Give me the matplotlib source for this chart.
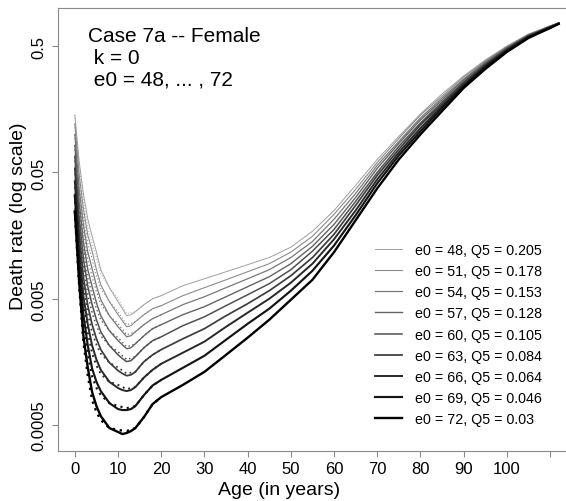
import matplotlib
matplotlib.use("Agg")
import matplotlib.pyplot as plt

plt.rcParams['font.family'] = ['Liberation Sans', 'DejaVu Sans']

# ages for the solid curves
ages = [0, 1, 2, 3, 4, 5, 6, 8, 10, 11, 12, 13, 14, 16, 18, 20, 25, 30, 35, 40, 45, 50,
        55, 60, 65, 70, 75, 80, 85, 90, 95, 100, 105, 110, 112]

e0_values = [48, 51, 54, 57, 60, 63, 66, 69, 72]
q5_values = ["0.205", "0.178", "0.153", "0.128", "0.105", "0.084", "0.064", "0.046", "0.03"]

# death rates, one list per e0
m_e48 = [0.142, 0.0611, 0.0335, 0.0213, 0.0156, 0.0117, 0.00849, 0.00612, 0.00474, 0.00417, 0.00367, 0.00374,
         0.00395, 0.00449, 0.00500, 0.00529, 0.00634, 0.00720, 0.00818, 0.00930, 0.0106, 0.0128,
         0.0171, 0.0250, 0.0395, 0.0634, 0.0964, 0.145, 0.209, 0.290, 0.388, 0.500, 0.623, 0.720, 0.761]
m_e51 = [0.121, 0.0482, 0.0255, 0.0159, 0.0119, 0.00849, 0.00646, 0.00474, 0.00374, 0.00335, 0.00300, 0.00306,
         0.00329, 0.00374, 0.00417, 0.00441, 0.00529, 0.00612, 0.00707, 0.00818, 0.00947, 0.0117,
         0.0156, 0.0233, 0.0367, 0.0600, 0.0930, 0.142, 0.201, 0.284, 0.381, 0.491, 0.612, 0.720, 0.761]
m_e54 = [0.100, 0.0374, 0.0191, 0.0117, 0.00864, 0.00634, 0.00491, 0.00367, 0.00300, 0.00274, 0.00250, 0.00255,
         0.00274, 0.00312, 0.00348, 0.00374, 0.00449, 0.00519, 0.00612, 0.00720, 0.00849, 0.0106,
         0.0142, 0.0213, 0.0341, 0.0569, 0.0880, 0.135, 0.194, 0.274, 0.374, 0.491, 0.612, 0.720, 0.761]
m_e57 = [0.0818, 0.0290, 0.0140, 0.00849, 0.00623, 0.00465, 0.00367, 0.00279, 0.00233, 0.00216, 0.00201, 0.00205,
         0.00220, 0.00255, 0.00290, 0.00312, 0.00374, 0.00433, 0.00519, 0.00623, 0.00747, 0.00947,
         0.0130, 0.0194, 0.0317, 0.0538, 0.0849, 0.130, 0.187, 0.269, 0.367, 0.482, 0.612, 0.707, 0.761]
m_e60 = [0.0670, 0.0220, 0.0103, 0.00623, 0.00449, 0.00341, 0.00274, 0.00213, 0.00180, 0.00168, 0.00159, 0.00162,
         0.00174, 0.00205, 0.00233, 0.00250, 0.00306, 0.00360, 0.00441, 0.00538, 0.00658, 0.00849,
         0.0119, 0.0177, 0.0295, 0.0500, 0.0804, 0.123, 0.180, 0.260, 0.360, 0.474, 0.600, 0.707, 0.761]
m_e63 = [0.0538, 0.0168, 0.00734, 0.00441, 0.00312, 0.00241, 0.00198, 0.00156, 0.00135, 0.00128, 0.00123, 0.00125,
         0.00132, 0.00159, 0.00180, 0.00198, 0.00241, 0.00290, 0.00367, 0.00457, 0.00579, 0.00761,
         0.0106, 0.0162, 0.0274, 0.0474, 0.0761, 0.119, 0.174, 0.255, 0.354, 0.474, 0.600, 0.707, 0.750]
m_e66 = [0.0425, 0.0125, 0.00519, 0.00312, 0.00213, 0.00165, 0.00137, 0.00110, 0.000982, 0.000947, 0.000930, 0.000947,
         0.00100, 0.00119, 0.00137, 0.00153, 0.00187, 0.00229, 0.00300, 0.00388, 0.00500, 0.00670,
         0.00947, 0.0148, 0.0250, 0.0441, 0.0720, 0.112, 0.168, 0.246, 0.348, 0.465, 0.590, 0.707, 0.750]
m_e69 = [0.0329, 0.00913, 0.00367, 0.00213, 0.00140, 0.00110, 0.000930, 0.000747, 0.000670, 0.000658, 0.000658, 0.000670,
         0.000707, 0.000864, 0.00103, 0.00114, 0.00142, 0.00177, 0.00237, 0.00317, 0.00417, 0.00579,
         0.00833, 0.0132, 0.0229, 0.0410, 0.0682, 0.106, 0.162, 0.241, 0.341, 0.457, 0.590, 0.695, 0.750]
m_e72 = [0.0246, 0.00670, 0.00250, 0.00142, 0.000913, 0.000707, 0.000590, 0.000474, 0.000441, 0.000425, 0.000433, 0.000449,
         0.000474, 0.000579, 0.000734, 0.000833, 0.00104, 0.00132, 0.00180, 0.00246, 0.00341, 0.00491,
         0.00707, 0.0117, 0.0209, 0.0374, 0.0634, 0.100, 0.153, 0.233, 0.329, 0.449, 0.579, 0.695, 0.750]

# dotted curves (child ages only, they sit on the solid ones afterwards)
dot_ages = [0, 1, 2, 3, 4, 5, 6, 8, 10, 12, 14, 16, 18, 20]
d_e48 = [0.142, 0.0578, 0.0300, 0.0184, 0.0135, 0.0105, 0.00789, 0.00612, 0.00501, 0.00381, 0.00395, 0.00449, 0.00500, 0.00529]
d_e51 = [0.121, 0.0456, 0.0229, 0.0137, 0.0103, 0.00761, 0.00601, 0.00474, 0.00395, 0.00311, 0.00329, 0.00374, 0.00417, 0.00441]
d_e54 = [0.100, 0.0354, 0.0171, 0.0101, 0.00747, 0.00568, 0.00456, 0.00367, 0.00317, 0.00259, 0.00274, 0.00312, 0.00348, 0.00374]
d_e57 = [0.0818, 0.0275, 0.0126, 0.00734, 0.00539, 0.00417, 0.00341, 0.00279, 0.00246, 0.00208, 0.00220, 0.00255, 0.00290, 0.00312]
d_e60 = [0.0670, 0.0208, 0.00923, 0.00539, 0.00388, 0.00306, 0.00255, 0.00213, 0.00190, 0.00165, 0.00174, 0.00205, 0.00233, 0.00250]
d_e63 = [0.0538, 0.0159, 0.00658, 0.00381, 0.00270, 0.00216, 0.00184, 0.00156, 0.00143, 0.00128, 0.00132, 0.00159, 0.00180, 0.00198]
d_e66 = [0.0425, 0.0118, 0.00465, 0.00270, 0.00184, 0.00148, 0.00127, 0.00110, 0.00104, 0.000964, 0.00100, 0.00119, 0.00137, 0.00153]
d_e69 = [0.0329, 0.00864, 0.00329, 0.00184, 0.00121, 0.000986, 0.000865, 0.000747, 0.000708, 0.000682, 0.000707, 0.000864, 0.00103, 0.00114]
d_e72 = [0.0246, 0.00634, 0.00224, 0.00123, 0.000789, 0.000634, 0.000549, 0.000474, 0.000457, 0.000449, 0.000474, 0.000579, 0.000734, 0.000833]

solid = [m_e48, m_e51, m_e54, m_e57, m_e60, m_e63, m_e66, m_e69, m_e72]
dotted = [d_e48, d_e51, d_e54, d_e57, d_e60, d_e63, d_e66, d_e69, d_e72]

greys = ['#a0a0a0', '#8c8c8c', '#787878', '#646464', '#505050', '#3c3c3c', '#282828', '#141414', '#000000']
widths = [0.7, 0.8, 0.9, 1.0, 1.1, 1.25, 1.4, 1.55, 1.7]

fig = plt.figure(figsize=(5.66, 5.02), dpi=100)
# axes run past the right edge of the figure, like the cropped original
ax = fig.add_axes([58 / 566, 50 / 502, 522.3 / 566, 443 / 502])

for i in range(len(e0_values)):
    ax.plot(ages, solid[i], color=greys[i], lw=widths[i],
            label=f"e0 = {e0_values[i]}, Q5 = {q5_values[i]}")
    ax.plot(dot_ages, dotted[i], color=greys[i], lw=widths[i], linestyle=(0, (1, 2)))

ax.set_yscale('log')
ax.set_xlim(-3.9, 117)
ax.set_ylim(0.000312, 1.0)

ax.set_xticks(range(0, 111, 10))
ax.set_xticklabels([str(a) for a in range(0, 101, 10)] + [""])
ax.set_yticks([0.0005, 0.005, 0.05, 0.5])
ax.set_yticklabels(["0.0005", "0.005", "0.05", "0.5"])
ax.minorticks_off()
plt.setp(ax.get_yticklabels(), rotation=90, va='center')

for sp in ax.spines.values():
    sp.set_color('#8a8a8a')
ax.tick_params(colors='#8a8a8a', labelcolor='black', labelsize=12, length=4.5, width=0.8)
ax.tick_params(axis='x', pad=3)
ax.tick_params(axis='y', pad=4)

ax.set_xlabel("Age (in years)", fontsize=14)
ax.set_ylabel("Death rate (log scale)", fontsize=14)
ax.xaxis.set_label_coords((279 - 58) / 522.3, (452 - 482) / 443)
ax.yaxis.set_label_coords((27 - 58) / 522.3, (452 - 216) / 443)

fig.text(88 / 566, 1 - 37 / 502, "Case 7a -- Female", fontsize=15, va='center')
fig.text(88 / 566, 1 - 58 / 502, " k = 0", fontsize=15, va='center')
fig.text(88 / 566, 1 - 80 / 502, " e0 = 48, ... , 72", fontsize=15, va='center')

ax.legend(loc='upper left', bbox_to_anchor=(375 / 566, 1 - 244 / 502),
          bbox_transform=fig.transFigure, frameon=False, fontsize=10.3,
          handlelength=1.9, handletextpad=0.9, labelspacing=0.5,
          borderpad=0, borderaxespad=0)

fig.savefig("out.png", dpi=100)
